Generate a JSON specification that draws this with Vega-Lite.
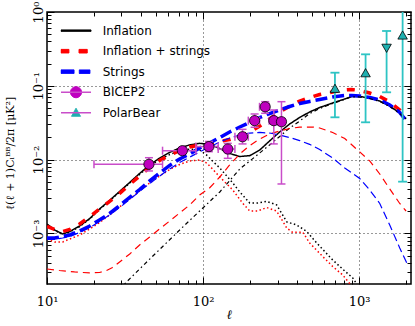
{
 "$schema": "https://vega.github.io/schema/vega-lite/v6.json",
 "width": 364, "height": 272,
 "autosize": {"type": "none"},
 "padding": {"left": 47, "top": 12, "right": 4, "bottom": 42},
 "background": "#ffffff",
 "config": {
  "view": {"stroke": "#000000", "strokeWidth": 1.5},
  "axis": {"domain": false, "labelFont": "DejaVu Serif", "labelFontSize": 13, "labelColor": "#000000", "tickColor": "#000000", "tickWidth": 1, "titleFont": "DejaVu Serif", "titleFontSize": 13, "titleFontWeight": "normal", "titleColor": "#000000", "labelOverlap": false, "labelFlush": false, "grid": false}
 },
 "datasets": {
  "curves": [
   {"series":"Inflation","ell":10,"value":0.00134},{"series":"Inflation","ell":11.2,"value":0.00111},{"series":"Inflation","ell":12.6,"value":0.000981},{"series":"Inflation","ell":14,"value":0.00106},{"series":"Inflation","ell":16.2,"value":0.00126},{"series":"Inflation","ell":18.8,"value":0.00159},{"series":"Inflation","ell":21.7,"value":0.00214},{"series":"Inflation","ell":25.2,"value":0.0028},{"series":"Inflation","ell":29.2,"value":0.0037},{"series":"Inflation","ell":33.9,"value":0.0049},{"series":"Inflation","ell":39.2,"value":0.00648},{"series":"Inflation","ell":45.5,"value":0.00845},{"series":"Inflation","ell":52.7,"value":0.0105},{"series":"Inflation","ell":61.1,"value":0.0125},{"series":"Inflation","ell":70.8,"value":0.0144},{"series":"Inflation","ell":82.1,"value":0.0158},{"series":"Inflation","ell":95.1,"value":0.0166},{"series":"Inflation","ell":110,"value":0.0161},{"series":"Inflation","ell":128,"value":0.0141},{"series":"Inflation","ell":148,"value":0.0121},{"series":"Inflation","ell":172,"value":0.011},{"series":"Inflation","ell":199,"value":0.0113},{"series":"Inflation","ell":231,"value":0.0135},{"series":"Inflation","ell":267,"value":0.0179},{"series":"Inflation","ell":310,"value":0.0237},{"series":"Inflation","ell":359,"value":0.0304},{"series":"Inflation","ell":416,"value":0.0372},{"series":"Inflation","ell":482,"value":0.0442},{"series":"Inflation","ell":559,"value":0.0508},{"series":"Inflation","ell":677,"value":0.0585},{"series":"Inflation","ell":809,"value":0.0662},{"series":"Inflation","ell":897,"value":0.0716},{"series":"Inflation","ell":1009,"value":0.0716},{"series":"Inflation","ell":1169,"value":0.0684},{"series":"Inflation","ell":1356,"value":0.0622},{"series":"Inflation","ell":1571,"value":0.0532},{"series":"Inflation","ell":1821,"value":0.0428},{"series":"Inflation","ell":2000,"value":0.036},

   {"series":"Inflation + strings","ell":10,"value":0.00124},{"series":"Inflation + strings","ell":11.2,"value":0.00113},{"series":"Inflation + strings","ell":12.6,"value":0.00106},{"series":"Inflation + strings","ell":14,"value":0.00113},{"series":"Inflation + strings","ell":16.2,"value":0.00134},{"series":"Inflation + strings","ell":18.8,"value":0.00169},{"series":"Inflation + strings","ell":21.7,"value":0.00214},{"series":"Inflation + strings","ell":25.2,"value":0.00271},{"series":"Inflation + strings","ell":29.2,"value":0.00348},{"series":"Inflation + strings","ell":33.9,"value":0.0046},{"series":"Inflation + strings","ell":39.2,"value":0.00599},{"series":"Inflation + strings","ell":45.5,"value":0.00782},{"series":"Inflation + strings","ell":52.7,"value":0.00972},{"series":"Inflation + strings","ell":61.1,"value":0.0115},{"series":"Inflation + strings","ell":70.8,"value":0.0133},{"series":"Inflation + strings","ell":82.1,"value":0.0148},{"series":"Inflation + strings","ell":95.1,"value":0.0158},{"series":"Inflation + strings","ell":110,"value":0.0168},{"series":"Inflation + strings","ell":128,"value":0.0176},{"series":"Inflation + strings","ell":148,"value":0.0187},{"series":"Inflation + strings","ell":172,"value":0.0206},{"series":"Inflation + strings","ell":199,"value":0.0237},{"series":"Inflation + strings","ell":231,"value":0.0285},{"series":"Inflation + strings","ell":267,"value":0.0355},{"series":"Inflation + strings","ell":310,"value":0.0442},{"series":"Inflation + strings","ell":359,"value":0.0532},{"series":"Inflation + strings","ell":416,"value":0.0622},{"series":"Inflation + strings","ell":482,"value":0.0694},{"series":"Inflation + strings","ell":559,"value":0.0762},{"series":"Inflation + strings","ell":677,"value":0.0824},{"series":"Inflation + strings","ell":809,"value":0.0877},{"series":"Inflation + strings","ell":897,"value":0.0891},{"series":"Inflation + strings","ell":1009,"value":0.0864},{"series":"Inflation + strings","ell":1169,"value":0.0799},{"series":"Inflation + strings","ell":1356,"value":0.0716},{"series":"Inflation + strings","ell":1571,"value":0.0603},{"series":"Inflation + strings","ell":1821,"value":0.047},{"series":"Inflation + strings","ell":1960,"value":0.039},

   {"series":"Strings","ell":10,"value":0.000866},{"series":"Strings","ell":11.2,"value":0.000866},{"series":"Strings","ell":12.6,"value":0.000908},{"series":"Strings","ell":14,"value":0.000951},{"series":"Strings","ell":16.2,"value":0.00108},{"series":"Strings","ell":18.8,"value":0.00126},{"series":"Strings","ell":21.7,"value":0.00152},{"series":"Strings","ell":25.2,"value":0.00186},{"series":"Strings","ell":29.2,"value":0.00239},{"series":"Strings","ell":33.9,"value":0.00307},{"series":"Strings","ell":39.2,"value":0.00393},{"series":"Strings","ell":45.5,"value":0.00513},{"series":"Strings","ell":52.7,"value":0.00658},{"series":"Strings","ell":61.1,"value":0.00832},{"series":"Strings","ell":70.8,"value":0.0102},{"series":"Strings","ell":82.1,"value":0.0119},{"series":"Strings","ell":95.1,"value":0.0144},{"series":"Strings","ell":110,"value":0.0168},{"series":"Strings","ell":128,"value":0.0199},{"series":"Strings","ell":148,"value":0.0237},{"series":"Strings","ell":172,"value":0.0276},{"series":"Strings","ell":199,"value":0.0318},{"series":"Strings","ell":231,"value":0.0372},{"series":"Strings","ell":267,"value":0.0421},{"series":"Strings","ell":310,"value":0.047},{"series":"Strings","ell":359,"value":0.0524},{"series":"Strings","ell":416,"value":0.0576},{"series":"Strings","ell":482,"value":0.0613},{"series":"Strings","ell":559,"value":0.0652},{"series":"Strings","ell":677,"value":0.0705},{"series":"Strings","ell":809,"value":0.0739},{"series":"Strings","ell":897,"value":0.0739},{"series":"Strings","ell":1009,"value":0.0727},{"series":"Strings","ell":1169,"value":0.0694},{"series":"Strings","ell":1356,"value":0.0642},{"series":"Strings","ell":1571,"value":0.0549},{"series":"Strings","ell":1821,"value":0.0435},{"series":"Strings","ell":2020,"value":0.0328},

   {"series":"Inflation: tensor","ell":10,"value":0.00132},{"series":"Inflation: tensor","ell":11.2,"value":0.0011},{"series":"Inflation: tensor","ell":12.6,"value":0.000966},{"series":"Inflation: tensor","ell":14,"value":0.00104},{"series":"Inflation: tensor","ell":16.2,"value":0.00124},{"series":"Inflation: tensor","ell":18.8,"value":0.00157},{"series":"Inflation: tensor","ell":21.7,"value":0.00211},{"series":"Inflation: tensor","ell":25.2,"value":0.00275},{"series":"Inflation: tensor","ell":29.2,"value":0.00364},{"series":"Inflation: tensor","ell":33.9,"value":0.00482},{"series":"Inflation: tensor","ell":39.2,"value":0.00628},{"series":"Inflation: tensor","ell":45.5,"value":0.00819},{"series":"Inflation: tensor","ell":52.7,"value":0.01},{"series":"Inflation: tensor","ell":61.1,"value":0.0117},{"series":"Inflation: tensor","ell":70.8,"value":0.0131},{"series":"Inflation: tensor","ell":82.1,"value":0.0139},{"series":"Inflation: tensor","ell":95.1,"value":0.0135},{"series":"Inflation: tensor","ell":105.5,"value":0.0115},{"series":"Inflation: tensor","ell":115,"value":0.00957},{"series":"Inflation: tensor","ell":128,"value":0.00769},{"series":"Inflation: tensor","ell":155,"value":0.00482},{"series":"Inflation: tensor","ell":172,"value":0.00364},{"series":"Inflation: tensor","ell":199,"value":0.00258},{"series":"Inflation: tensor","ell":224,"value":0.00258},{"series":"Inflation: tensor","ell":256,"value":0.00271},{"series":"Inflation: tensor","ell":296,"value":0.00243},{"series":"Inflation: tensor","ell":344,"value":0.00143},{"series":"Inflation: tensor","ell":398,"value":0.0013},{"series":"Inflation: tensor","ell":462,"value":0.00106},{"series":"Inflation: tensor","ell":535,"value":0.000741},{"series":"Inflation: tensor","ell":677,"value":0.000436},{"series":"Inflation: tensor","ell":809,"value":0.000309},{"series":"Inflation: tensor","ell":910,"value":0.000249},{"series":"Inflation: tensor","ell":965,"value":0.000206},{"series":"Inflation: tensor","ell":1009,"value":0.00018},

   {"series":"Inflation: lensing","ell":29.2,"value":0.000177},{"series":"Inflation: lensing","ell":39.2,"value":0.000329},{"series":"Inflation: lensing","ell":52.7,"value":0.000605},{"series":"Inflation: lensing","ell":70.8,"value":0.00111},{"series":"Inflation: lensing","ell":95.1,"value":0.00201},{"series":"Inflation: lensing","ell":128,"value":0.00364},{"series":"Inflation: lensing","ell":172,"value":0.00746},{"series":"Inflation: lensing","ell":214,"value":0.0108},{"series":"Inflation: lensing","ell":267,"value":0.0158},{"series":"Inflation: lensing","ell":310,"value":0.0206},{"series":"Inflation: lensing","ell":359,"value":0.0268},{"series":"Inflation: lensing","ell":416,"value":0.0333},{"series":"Inflation: lensing","ell":482,"value":0.0421},{"series":"Inflation: lensing","ell":559,"value":0.0492},{"series":"Inflation: lensing","ell":677,"value":0.0576},{"series":"Inflation: lensing","ell":809,"value":0.0655},{"series":"Inflation: lensing","ell":897,"value":0.071},{"series":"Inflation: lensing","ell":1009,"value":0.0705},{"series":"Inflation: lensing","ell":1169,"value":0.0673},{"series":"Inflation: lensing","ell":1356,"value":0.0613},{"series":"Inflation: lensing","ell":1571,"value":0.0524},{"series":"Inflation: lensing","ell":1821,"value":0.0421},{"series":"Inflation: lensing","ell":2000,"value":0.0355},

   {"series":"Inflation + strings: tensor","ell":10,"value":0.000839},{"series":"Inflation + strings: tensor","ell":11.2,"value":0.000765},{"series":"Inflation + strings: tensor","ell":12.6,"value":0.000765},{"series":"Inflation + strings: tensor","ell":14,"value":0.000839},{"series":"Inflation + strings: tensor","ell":16.2,"value":0.000951},{"series":"Inflation + strings: tensor","ell":18.8,"value":0.00115},{"series":"Inflation + strings: tensor","ell":21.7,"value":0.0014},{"series":"Inflation + strings: tensor","ell":25.2,"value":0.00178},{"series":"Inflation + strings: tensor","ell":29.2,"value":0.00228},{"series":"Inflation + strings: tensor","ell":33.9,"value":0.00292},{"series":"Inflation + strings: tensor","ell":39.2,"value":0.00375},{"series":"Inflation + strings: tensor","ell":45.5,"value":0.00482},{"series":"Inflation + strings: tensor","ell":52.7,"value":0.00599},{"series":"Inflation + strings: tensor","ell":61.1,"value":0.00734},{"series":"Inflation + strings: tensor","ell":70.8,"value":0.00858},{"series":"Inflation + strings: tensor","ell":82.1,"value":0.00957},{"series":"Inflation + strings: tensor","ell":95.1,"value":0.00988},{"series":"Inflation + strings: tensor","ell":105.5,"value":0.00899},{"series":"Inflation + strings: tensor","ell":115,"value":0.00746},{"series":"Inflation + strings: tensor","ell":128,"value":0.00581},{"series":"Inflation + strings: tensor","ell":155,"value":0.00387},{"series":"Inflation + strings: tensor","ell":179,"value":0.00258},{"series":"Inflation + strings: tensor","ell":199,"value":0.00201},{"series":"Inflation + strings: tensor","ell":224,"value":0.00201},{"series":"Inflation + strings: tensor","ell":256,"value":0.00224},{"series":"Inflation + strings: tensor","ell":296,"value":0.00201},{"series":"Inflation + strings: tensor","ell":344,"value":0.00118},{"series":"Inflation + strings: tensor","ell":375,"value":0.00103},{"series":"Inflation + strings: tensor","ell":435,"value":0.00104},{"series":"Inflation + strings: tensor","ell":482,"value":0.000741},{"series":"Inflation + strings: tensor","ell":584,"value":0.000486},{"series":"Inflation + strings: tensor","ell":677,"value":0.000356},{"series":"Inflation + strings: tensor","ell":785,"value":0.000273},{"series":"Inflation + strings: tensor","ell":870,"value":0.000209},{"series":"Inflation + strings: tensor","ell":940,"value":0.00017},

   {"series":"Inflation + strings: strings","ell":10,"value":0.000329},{"series":"Inflation + strings: strings","ell":12,"value":0.000314},{"series":"Inflation + strings: strings","ell":15,"value":0.0003},{"series":"Inflation + strings: strings","ell":18.8,"value":0.000291},{"series":"Inflation + strings: strings","ell":21.7,"value":0.000295},{"series":"Inflation + strings: strings","ell":24.1,"value":0.000314},{"series":"Inflation + strings: strings","ell":26.3,"value":0.000345},{"series":"Inflation + strings: strings","ell":29.2,"value":0.00041},{"series":"Inflation + strings: strings","ell":33.9,"value":0.000526},{"series":"Inflation + strings: strings","ell":39.2,"value":0.000696},{"series":"Inflation + strings: strings","ell":45.5,"value":0.000894},{"series":"Inflation + strings: strings","ell":52.7,"value":0.00115},{"series":"Inflation + strings: strings","ell":61.1,"value":0.00147},{"series":"Inflation + strings: strings","ell":70.8,"value":0.00189},{"series":"Inflation + strings: strings","ell":82.1,"value":0.00243},{"series":"Inflation + strings: strings","ell":95.1,"value":0.00331},{"series":"Inflation + strings: strings","ell":110,"value":0.00412},{"series":"Inflation + strings: strings","ell":128,"value":0.00581},{"series":"Inflation + strings: strings","ell":148,"value":0.00845},{"series":"Inflation + strings: strings","ell":172,"value":0.0119},{"series":"Inflation + strings: strings","ell":199,"value":0.0155},{"series":"Inflation + strings: strings","ell":231,"value":0.019},{"series":"Inflation + strings: strings","ell":267,"value":0.0222},{"series":"Inflation + strings: strings","ell":310,"value":0.0244},{"series":"Inflation + strings: strings","ell":359,"value":0.0264},{"series":"Inflation + strings: strings","ell":416,"value":0.0276},{"series":"Inflation + strings: strings","ell":504,"value":0.0276},{"series":"Inflation + strings: strings","ell":559,"value":0.0268},{"series":"Inflation + strings: strings","ell":677,"value":0.0233},{"series":"Inflation + strings: strings","ell":809,"value":0.0193},{"series":"Inflation + strings: strings","ell":1009,"value":0.0127},{"series":"Inflation + strings: strings","ell":1169,"value":0.00957},{"series":"Inflation + strings: strings","ell":1356,"value":0.00638},{"series":"Inflation + strings: strings","ell":1571,"value":0.004},{"series":"Inflation + strings: strings","ell":1821,"value":0.00254},{"series":"Inflation + strings: strings","ell":2000,"value":0.00201},

   {"series":"Strings: strings","ell":10,"value":0.000827},{"series":"Strings: strings","ell":11.2,"value":0.000827},{"series":"Strings: strings","ell":12.6,"value":0.000866},{"series":"Strings: strings","ell":14,"value":0.000908},{"series":"Strings: strings","ell":16.2,"value":0.00103},{"series":"Strings: strings","ell":18.8,"value":0.0012},{"series":"Strings: strings","ell":21.7,"value":0.00145},{"series":"Strings: strings","ell":25.2,"value":0.00178},{"series":"Strings: strings","ell":29.2,"value":0.00224},{"series":"Strings: strings","ell":33.9,"value":0.00288},{"series":"Strings: strings","ell":39.2,"value":0.0037},{"series":"Strings: strings","ell":45.5,"value":0.00474},{"series":"Strings: strings","ell":52.7,"value":0.00599},{"series":"Strings: strings","ell":61.1,"value":0.00746},{"series":"Strings: strings","ell":70.8,"value":0.00914},{"series":"Strings: strings","ell":82.1,"value":0.0108},{"series":"Strings: strings","ell":95.1,"value":0.0127},{"series":"Strings: strings","ell":110,"value":0.0148},{"series":"Strings: strings","ell":128,"value":0.0173},{"series":"Strings: strings","ell":148,"value":0.0196},{"series":"Strings: strings","ell":172,"value":0.0215},{"series":"Strings: strings","ell":199,"value":0.0229},{"series":"Strings: strings","ell":231,"value":0.0233},{"series":"Strings: strings","ell":267,"value":0.0229},{"series":"Strings: strings","ell":310,"value":0.0215},{"series":"Strings: strings","ell":359,"value":0.0199},{"series":"Strings: strings","ell":416,"value":0.0181},{"series":"Strings: strings","ell":482,"value":0.0161},{"series":"Strings: strings","ell":559,"value":0.0137},{"series":"Strings: strings","ell":677,"value":0.0105},{"series":"Strings: strings","ell":809,"value":0.00769},{"series":"Strings: strings","ell":1009,"value":0.00554},{"series":"Strings: strings","ell":1169,"value":0.00387},{"series":"Strings: strings","ell":1356,"value":0.00254},{"series":"Strings: strings","ell":1571,"value":0.0013},{"series":"Strings: strings","ell":1821,"value":0.000634},{"series":"Strings: strings","ell":2020,"value":0.000397}
  ],
  "bicep": [
   {"series":"BICEP2","ell":45,"value":0.00864,"lo":0.00701,"hi":0.0106,"ell_lo":20,"ell_hi":55},
   {"series":"BICEP2","ell":73.7,"value":0.0132,"lo":0.0119,"hi":0.0146,"ell_lo":55,"ell_hi":90},
   {"series":"BICEP2","ell":109,"value":0.015,"lo":0.0128,"hi":0.0176,"ell_lo":90,"ell_hi":125},
   {"series":"BICEP2","ell":144,"value":0.0139,"lo":0.0104,"hi":0.0166,"ell_lo":125,"ell_hi":160},
   {"series":"BICEP2","ell":179,"value":0.0204,"lo":0.0163,"hi":0.0257,"ell_lo":160,"ell_hi":195},
   {"series":"BICEP2","ell":214,"value":0.0337,"lo":0.0274,"hi":0.0415,"ell_lo":195,"ell_hi":230},
   {"series":"BICEP2","ell":250,"value":0.0519,"lo":0.0424,"hi":0.0609,"ell_lo":230,"ell_hi":265},
   {"series":"BICEP2","ell":284,"value":0.0337,"lo":0.0163,"hi":0.047,"ell_lo":265,"ell_hi":300},
   {"series":"BICEP2","ell":318,"value":0.0326,"lo":0.00467,"hi":0.0609,"ell_lo":300,"ell_hi":335}
  ],
  "polarbear": [
   {"series":"PolarBear","ell":700,"value":0.0925,"lo":0.0374,"hi":0.1505,"limit":"detection"},
   {"series":"PolarBear","ell":1100,"value":0.1505,"lo":0.032,"hi":0.267,"limit":"detection"},
   {"series":"PolarBear","ell":1500,"value":0.322,"lo":0.0816,"hi":0.553,"limit":"upper limit"},
   {"series":"PolarBear","ell":1900,"value":0.488,"lo":0.00502,"hi":1.6,"limit":"detection"}
  ]
 },
 "layer": [
  {
   "data": {"name": "curves"},
   "transform": [{"filter": {"field": "series", "oneOf": ["Inflation", "Inflation: tensor", "Inflation + strings: tensor"]}}],
   "mark": {"type": "line", "clip": true, "strokeCap": "butt", "strokeWidth": 1.5},
   "encoding": {
    "x": {"field": "ell", "type": "quantitative", "scale": {"type": "log", "domain": [10, 2150], "nice": false},
     "axis": {"orient": "bottom", "values": [10,20,30,40,50,60,70,80,90,100,200,300,400,500,600,700,800,900,1000,2000],
      "labelExpr": "datum.value == 10 ? '10¹' : datum.value == 100 ? '10²' : datum.value == 1000 ? '10³' : ''",
      "tickSize": {"condition": {"test": "datum.value == 10 || datum.value == 100 || datum.value == 1000", "value": -7}, "value": -4},
      "labelPadding": 18.5, "labelBaseline": "top",
      "grid": true, "gridColor": "#333333", "gridDash": [1, 3], "gridWidth": 1,
      "gridOpacity": {"condition": {"test": "datum.value == 100 || datum.value == 1000", "value": 1}, "value": 0},
      "title": "ℓ", "titleFontStyle": "italic", "titleY": 34, "titleBaseline": "alphabetic"}},
    "y": {"field": "value", "type": "quantitative", "scale": {"type": "log", "domain": [0.000206, 1], "nice": false},
     "axis": {"orient": "left", "values": [0.0003,0.0004,0.0005,0.0006,0.0007,0.0008,0.0009,0.001,0.002,0.003,0.004,0.005,0.006,0.007,0.008,0.009,0.01,0.02,0.03,0.04,0.05,0.06,0.07,0.08,0.09,0.1,0.2,0.3,0.4,0.5,0.6,0.7,0.8,0.9,1],
      "labelExpr": "datum.value == 1 ? '10⁰' : datum.value == 0.1 ? '10⁻¹' : datum.value == 0.01 ? '10⁻²' : datum.value == 0.001 ? '10⁻³' : ''",
      "tickSize": {"condition": {"test": "datum.value == 1 || datum.value == 0.1 || datum.value == 0.01 || datum.value == 0.001", "value": -7}, "value": -4},
      "labelPadding": 12, "labelAngle": 270, "labelAlign": "center", "labelBaseline": "alphabetic",
      "grid": true, "gridColor": "#333333", "gridDash": [1, 3], "gridWidth": 1,
      "gridOpacity": {"condition": {"test": "datum.value == 0.1 || datum.value == 0.01 || datum.value == 0.001", "value": 1}, "value": 0},
      "title": "ℓ(ℓ + 1)Cₗᴮᴮ/2π [μK²]", "titleFontSize": 11, "titleX": -37, "titleY": 141, "titleAngle": 270, "titleAlign": "center", "titleBaseline": "middle"}},
    "color": {"field": "series", "type": "nominal",
     "scale": {"domain": ["Inflation","Inflation + strings","Strings","BICEP2","PolarBear","Inflation: tensor","Inflation: lensing","Inflation + strings: tensor","Inflation + strings: strings","Strings: strings"],
      "range": ["#000000","#ff0000","#0000ff","#bf00bf","#1fb0b0","#000000","#000000","#ff0000","#ff0000","#0000ff"]},
     "legend": {"values": ["Inflation","Inflation + strings","Strings","BICEP2","PolarBear"], "orient": "none", "legendX": 13.5, "legendY": 8.7, "title": null, "padding": 0,
      "symbolSize": 900, "symbolStrokeWidth": 1, "labelOffset": 11.2, "labelFont": "DejaVu Sans", "labelFontSize": 12, "labelColor": "#000000", "clipHeight": 20, "rowPadding": 0.5, "labelBaseline": "middle",
      "encode": {"symbols": {"update": {
       "shape": [
         {"test": "datum.value === 'Inflation'", "value": "M-1,-0.05H1V0.05H-1Z"},
         {"test": "datum.value === 'Inflation + strings'", "value": "M-1,-0.12H-0.47V0.12H-1ZM0.2,-0.12H0.75V0.12H0.2Z"},
         {"test": "datum.value === 'Strings'", "value": "M-1,-0.12H-0.13V0.12H-1ZM0.22,-0.12H0.93V0.12H0.22Z"},
         {"test": "datum.value === 'BICEP2'", "value": "M-0.37,0A0.37,0.37,0,1,1,0.37,0A0.37,0.37,0,1,1,-0.37,0Z"},
         {"value": "M0,-0.3L0.3,0.24L-0.3,0.24Z"}],
       "fill": [
         {"test": "datum.value === 'Inflation'", "value": "#000000"},
         {"test": "datum.value === 'Inflation + strings'", "value": "#ff0000"},
         {"test": "datum.value === 'Strings'", "value": "#0000ff"},
         {"test": "datum.value === 'BICEP2'", "value": "#bf00bf"},
         {"value": "#1fb0b0"}],
       "stroke": [
         {"test": "datum.value === 'BICEP2' || datum.value === 'PolarBear'", "value": "#000000"},
         {"value": "transparent"}],
       "strokeDash": {"value": [1, 0]},
       "opacity": {"value": 1},
       "fillOpacity": {"value": 1}
      }}}}},
    "strokeDash": {"field": "series", "type": "nominal",
     "scale": {"domain": ["Inflation","Inflation + strings","Strings","Inflation: tensor","Inflation: lensing","Inflation + strings: tensor","Inflation + strings: strings","Strings: strings"],
      "range": [[1,0],[8,9],[12,5],[1.5,2.5],[4,3,1.5,3],[1.5,2.5],[7,5],[8,4]]}, "legend": null}
   }
  },
  {
   "data": {"name": "curves"},
   "transform": [{"filter": {"field": "series", "oneOf": ["Inflation + strings", "Strings"]}}],
   "mark": {"type": "line", "clip": true, "strokeCap": "butt", "strokeWidth": 3.5},
   "encoding": {
    "x": {"field": "ell", "type": "quantitative", "scale": {"type": "log", "domain": [10, 2150], "nice": false}, "axis": null},
    "y": {"field": "value", "type": "quantitative", "scale": {"type": "log", "domain": [0.000206, 1], "nice": false}, "axis": null},
    "color": {"field": "series", "type": "nominal"},
    "strokeDash": {"field": "series", "type": "nominal", "legend": null}
   }
  },
  {
   "data": {"name": "curves"},
   "transform": [{"filter": {"field": "series", "oneOf": ["Inflation: lensing", "Inflation + strings: strings", "Strings: strings"]}}],
   "mark": {"type": "line", "clip": true, "strokeCap": "butt", "strokeWidth": 1.2},
   "encoding": {
    "x": {"field": "ell", "type": "quantitative", "scale": {"type": "log", "domain": [10, 2150], "nice": false}, "axis": null},
    "y": {"field": "value", "type": "quantitative", "scale": {"type": "log", "domain": [0.000206, 1], "nice": false}, "axis": null},
    "color": {"field": "series", "type": "nominal"},
    "strokeDash": {"field": "series", "type": "nominal", "legend": null}
   }
  },
  {
   "data": {"name": "bicep"},
   "mark": {"type": "rule", "color": "#c94dc9", "strokeWidth": 1.5},
   "encoding": {
    "x": {"field": "ell", "type": "quantitative", "scale": {"type": "log", "domain": [10, 2150], "nice": false}, "axis": null},
    "y": {"field": "lo", "type": "quantitative", "scale": {"type": "log", "domain": [0.000206, 1], "nice": false}, "axis": null},
    "y2": {"field": "hi"},
    "opacity": {"field": "series", "type": "nominal",
     "scale": {"domain": ["BICEP2","PolarBear"], "range": [1, 1]},
     "legend": {"orient": "none", "legendX": 13, "legendY": 70.2, "title": null, "padding": 0,
      "symbolSize": 900, "symbolStrokeWidth": 1.5, "labelExpr": "''", "labelFontSize": 12, "labelOffset": 0, "clipHeight": 20, "rowPadding": 0.5,
      "encode": {"symbols": {"update": {
       "shape": [
         {"test": "datum.value === 'BICEP2'", "value": "M-0.62,0H-0.37M0.37,0H0.62M-0.62,-0.27V0.27M0.62,-0.27V0.27M0,-0.5V-0.37M0,0.37V0.5M-0.27,-0.5H0.27M-0.27,0.5H0.27"},
         {"test": "datum.value === 'PolarBear'", "value": "M0,-0.5V-0.3M0,0.24V0.5M-0.27,-0.5H0.27M-0.27,0.5H0.27"},
         {"value": "M0,-0.5V-0.3M0,0.24V0.5M-0.27,-0.5H0.27M-0.27,0.5H0.27"}],
       "stroke": [
         {"test": "datum.value === 'BICEP2'", "value": "#c94dc9"},
         {"test": "datum.value === 'PolarBear'", "value": "#2ec4c4"},
         {"value": "#2ec4c4"}],
       "fill": {"value": "transparent"},
       "strokeDash": {"value": [1, 0]}
      }}}}}
   }
  },
  {
   "data": {"name": "bicep"},
   "mark": {"type": "rule", "color": "#c94dc9", "strokeWidth": 1.5},
   "encoding": {
    "x": {"field": "ell_lo", "type": "quantitative", "scale": {"type": "log", "domain": [10, 2150], "nice": false}, "axis": null},
    "x2": {"field": "ell_hi"},
    "y": {"field": "value", "type": "quantitative", "scale": {"type": "log", "domain": [0.000206, 1], "nice": false}, "axis": null}
   }
  },
  {
   "data": {"name": "bicep"},
   "mark": {"type": "tick", "orient": "horizontal", "size": 8, "thickness": 1.5, "color": "#c94dc9", "opacity": 1},
   "encoding": {
    "x": {"field": "ell", "type": "quantitative", "scale": {"type": "log", "domain": [10, 2150], "nice": false}, "axis": null},
    "y": {"field": "hi", "type": "quantitative", "scale": {"type": "log", "domain": [0.000206, 1], "nice": false}, "axis": null}
   }
  },
  {
   "data": {"name": "bicep"},
   "mark": {"type": "tick", "orient": "horizontal", "size": 8, "thickness": 1.5, "color": "#c94dc9", "opacity": 1},
   "encoding": {
    "x": {"field": "ell", "type": "quantitative", "scale": {"type": "log", "domain": [10, 2150], "nice": false}, "axis": null},
    "y": {"field": "lo", "type": "quantitative", "scale": {"type": "log", "domain": [0.000206, 1], "nice": false}, "axis": null}
   }
  },
  {
   "data": {"name": "bicep"},
   "mark": {"type": "tick", "orient": "vertical", "size": 8, "thickness": 1.5, "color": "#c94dc9", "opacity": 1},
   "encoding": {
    "x": {"field": "ell_lo", "type": "quantitative", "scale": {"type": "log", "domain": [10, 2150], "nice": false}, "axis": null},
    "y": {"field": "value", "type": "quantitative", "scale": {"type": "log", "domain": [0.000206, 1], "nice": false}, "axis": null}
   }
  },
  {
   "data": {"name": "bicep"},
   "mark": {"type": "tick", "orient": "vertical", "size": 8, "thickness": 1.5, "color": "#c94dc9", "opacity": 1},
   "encoding": {
    "x": {"field": "ell_hi", "type": "quantitative", "scale": {"type": "log", "domain": [10, 2150], "nice": false}, "axis": null},
    "y": {"field": "value", "type": "quantitative", "scale": {"type": "log", "domain": [0.000206, 1], "nice": false}, "axis": null}
   }
  },
  {
   "data": {"name": "bicep"},
   "mark": {"type": "point", "filled": true, "shape": "circle", "size": 105, "stroke": "#000000", "strokeWidth": 0.8, "opacity": 1},
   "encoding": {
    "x": {"field": "ell", "type": "quantitative", "scale": {"type": "log", "domain": [10, 2150], "nice": false}, "axis": null},
    "y": {"field": "value", "type": "quantitative", "scale": {"type": "log", "domain": [0.000206, 1], "nice": false}, "axis": null},
    "color": {"field": "series", "type": "nominal"}
   }
  },
  {
   "data": {"name": "polarbear"},
   "mark": {"type": "rule", "color": "#2ec4c4", "strokeWidth": 1.8, "clip": true},
   "encoding": {
    "x": {"field": "ell", "type": "quantitative", "scale": {"type": "log", "domain": [10, 2150], "nice": false}, "axis": null},
    "y": {"field": "lo", "type": "quantitative", "scale": {"type": "log", "domain": [0.000206, 1], "nice": false}, "axis": null},
    "y2": {"field": "hi"}
   }
  },
  {
   "data": {"name": "polarbear"},
   "mark": {"type": "tick", "orient": "horizontal", "size": 9, "thickness": 1.8, "color": "#2ec4c4", "opacity": 1, "clip": true},
   "encoding": {
    "x": {"field": "ell", "type": "quantitative", "scale": {"type": "log", "domain": [10, 2150], "nice": false}, "axis": null},
    "y": {"field": "hi", "type": "quantitative", "scale": {"type": "log", "domain": [0.000206, 1], "nice": false}, "axis": null}
   }
  },
  {
   "data": {"name": "polarbear"},
   "mark": {"type": "tick", "orient": "horizontal", "size": 9, "thickness": 1.8, "color": "#2ec4c4", "opacity": 1, "clip": true},
   "encoding": {
    "x": {"field": "ell", "type": "quantitative", "scale": {"type": "log", "domain": [10, 2150], "nice": false}, "axis": null},
    "y": {"field": "lo", "type": "quantitative", "scale": {"type": "log", "domain": [0.000206, 1], "nice": false}, "axis": null}
   }
  },
  {
   "data": {"name": "polarbear"},
   "mark": {"type": "point", "filled": true, "size": 90, "stroke": "#000000", "strokeWidth": 0.8, "opacity": 1},
   "encoding": {
    "x": {"field": "ell", "type": "quantitative", "scale": {"type": "log", "domain": [10, 2150], "nice": false},
     "axis": {"orient": "top", "values": [10,20,30,40,50,60,70,80,90,100,200,300,400,500,600,700,800,900,1000,2000], "labels": false, "title": null, "grid": false,
      "tickSize": {"condition": {"test": "datum.value == 10 || datum.value == 100 || datum.value == 1000", "value": -7}, "value": -4}}},
    "y": {"field": "value", "type": "quantitative", "scale": {"type": "log", "domain": [0.000206, 1], "nice": false},
     "axis": {"orient": "right", "values": [0.0003,0.0004,0.0005,0.0006,0.0007,0.0008,0.0009,0.001,0.002,0.003,0.004,0.005,0.006,0.007,0.008,0.009,0.01,0.02,0.03,0.04,0.05,0.06,0.07,0.08,0.09,0.1,0.2,0.3,0.4,0.5,0.6,0.7,0.8,0.9,1], "labels": false, "title": null, "grid": false,
      "tickSize": {"condition": {"test": "datum.value == 1 || datum.value == 0.1 || datum.value == 0.01 || datum.value == 0.001", "value": -7}, "value": -4}}},
    "color": {"field": "series", "type": "nominal"},
    "shape": {"field": "limit", "type": "nominal", "scale": {"domain": ["detection", "upper limit"], "range": ["triangle-up", "triangle-down"]}, "legend": null}
   }
  }
 ],
 "resolve": {"axis": {"x": "independent", "y": "independent"}}
}
